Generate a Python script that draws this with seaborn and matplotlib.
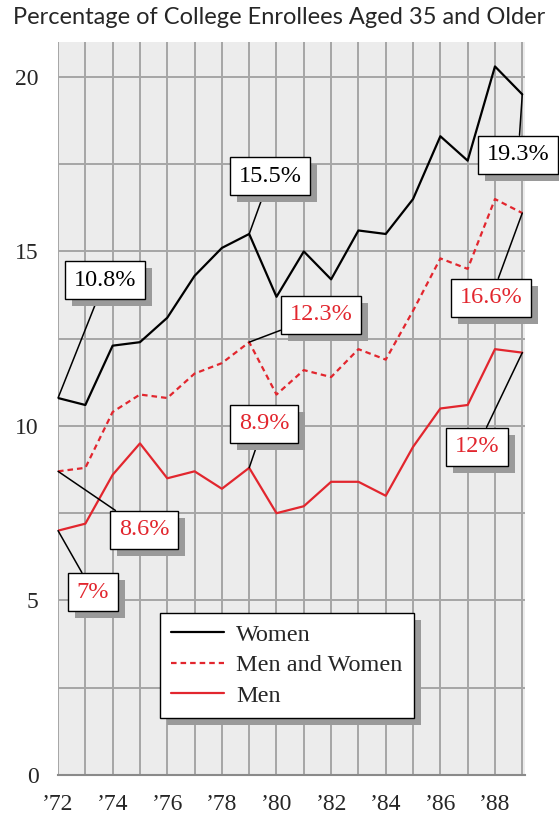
import pandas as pd
import seaborn as sns
import matplotlib.pyplot as plt
import matplotlib.patheffects as pe

# Datos
years = list(range(1972, 1990))
women = [10.8, 10.6, 12.3, 12.4, 13.1, 14.3, 15.1, 15.5, 13.7, 15.0,
         14.2, 15.6, 15.5, 16.5, 18.3, 17.6, 20.3, 19.5]
both = [8.7, 8.8, 10.4, 10.9, 10.8, 11.5, 11.8, 12.4, 10.9, 11.6,
        11.4, 12.2, 11.9, 13.3, 14.8, 14.5, 16.5, 16.1]
men = [7.0, 7.2, 8.6, 9.5, 8.5, 8.7, 8.2, 8.8, 7.5, 7.7,
       8.4, 8.4, 8.0, 9.4, 10.5, 10.6, 12.2, 12.1]
groups = ["Women", "Men and Women", "Men"]
tick_years = list(range(1972, 1990, 2))
tick_labels = ["\u201972", "\u201974", "\u201976", "\u201978", "\u201980",
               "\u201982", "\u201984", "\u201986", "\u201988"]
callouts = ["10.8%", "15.5%", "19.3%", "12.3%", "16.6%", "8.9%", "8.6%", "7%", "12%"]

red = "#e2262e"
serif = ["Liberation Serif", "DejaVu Serif"]

df = pd.DataFrame({
    "year": years * 3,
    "pct": women + both + men,
    "group": ["Women"] * len(years) + ["Men and Women"] * len(years) + ["Men"] * len(years),
})

sns.set_style("white")
plt.rcParams["font.family"] = serif

fig = plt.figure(figsize=(5.59, 8.22), dpi=100)
ax = fig.add_axes([0.1038, 0.0572, 0.8354, 0.8917])
ax.set_facecolor("#ececec")

sns.lineplot(data=df, x="year", y="pct", hue="group", style="group",
             palette={"Women": "black", "Men and Women": red, "Men": red},
             dashes={"Women": "", "Men and Women": (2.5, 1.8), "Men": ""},
             linewidth=1.6, ax=ax, zorder=3)

ax.set_xlim(1972, 1989.1)
ax.set_ylim(0, 21.0)

# rejilla
for yr in years:
    ax.axvline(yr, color="#a6a6a6", lw=1.4, zorder=1)
for v in [2.5, 5, 7.5, 10, 12.5, 15, 17.5, 20]:
    ax.axhline(v, color="#a6a6a6", lw=1.4, zorder=1)

ax.set_xticks(tick_years)
ax.set_xticklabels(tick_labels, family=serif, fontsize=17)
ax.set_yticks([0, 2.5, 5, 7.5, 10, 12.5, 15, 17.5, 20])
ax.set_yticklabels(["0", "", "5", "", "10", "", "15", "", "20"], family=serif, fontsize=17)
ax.tick_params(axis="both", direction="out", length=6, width=2, color="#222222", pad=8)
ax.set_xlabel("")
ax.set_ylabel("")
for s in ["top", "right", "left"]:
    ax.spines[s].set_visible(False)
ax.spines["bottom"].set_color("#8a8a8a")
ax.spines["bottom"].set_linewidth(1.5)

fig.text(0.5, 0.979, "Percentage of College Enrollees Aged 35 and Older",
         ha="center", va="center", fontsize=17, family=["Lato", "DejaVu Sans"])

# etiquetas con sombra
points = [(1972, women[0]), (1979, women[7]), (1989, women[17]),
          (1979, both[7]), (1989, both[17]), (1979, men[7]),
          (1972, both[0]), (1972, men[0]), (1989, men[17])]
boxes = [(1973.72, 14.18), (1979.77, 17.16), (1988.85, 17.77),
         (1981.63, 13.18), (1987.86, 13.67), (1979.55, 10.06),
         (1975.15, 7.02), (1973.28, 5.24), (1987.35, 9.40)]
colors = ["black", "black", "black", red, red, red, red, red, red]
for txt, pt, bx, c in zip(callouts, points, boxes, colors):
    t = ax.annotate(txt, xy=pt, xytext=bx, ha="center", va="center",
                    fontsize=17.5, color=c, zorder=6, family=serif,
                    bbox=dict(boxstyle="square,pad=0.35", fc="white", ec="black", lw=1),
                    arrowprops=dict(arrowstyle="-", color="black", lw=1.1,
                                    shrinkA=0, shrinkB=0))
    t.get_bbox_patch().set_path_effects([
        pe.SimplePatchShadow(offset=(5, -5), shadow_rgbFace="#9a9a9a", alpha=1),
        pe.Normal()])

handles, labels = ax.get_legend_handles_labels()
hmap = dict(zip(labels, handles))
leg = ax.legend([hmap[g] for g in groups], groups, loc="lower left",
                bbox_to_anchor=(0.218, 0.078), borderaxespad=0,
                prop={"family": serif, "size": 17.5},
                handlelength=2.2, handletextpad=0.5, labelspacing=0.35,
                fancybox=False, framealpha=1, edgecolor="black", borderpad=0.45)
leg.get_frame().set_linewidth(1)
leg.set_zorder(7)
leg.legendPatch.set_path_effects([
    pe.SimplePatchShadow(offset=(5, -5), shadow_rgbFace="#9a9a9a", alpha=1),
    pe.Normal()])

fig.savefig("out.png", dpi=100)
